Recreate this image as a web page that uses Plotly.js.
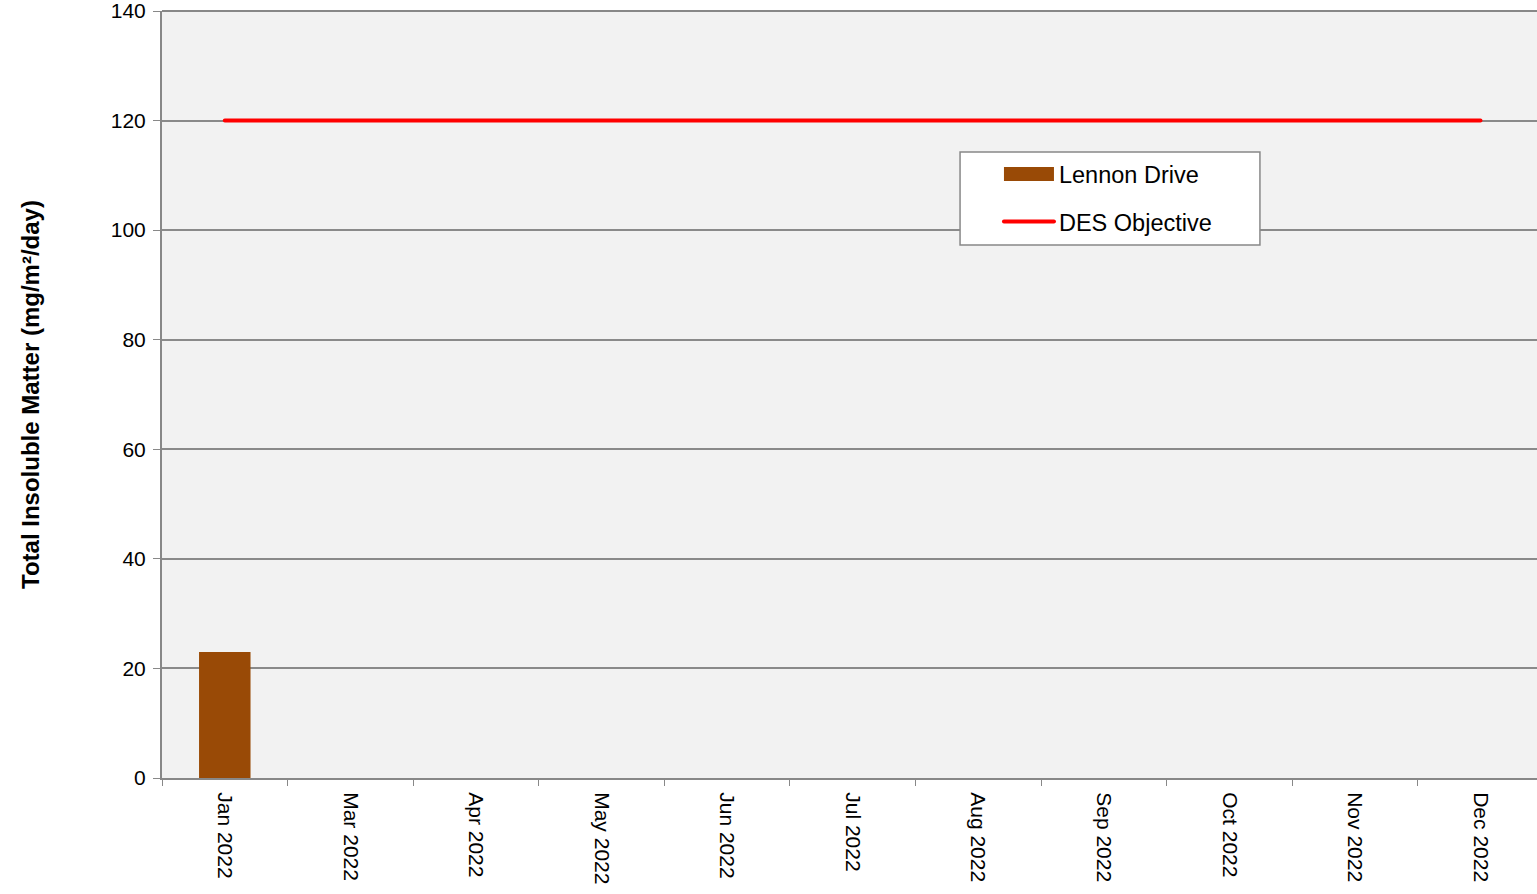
<!DOCTYPE html>
<html><head><meta charset="utf-8">
<script src="https://cdn.plot.ly/plotly-3.0.1.min.js"></script>
<style>html,body{margin:0;padding:0;background:#fff}#chart{width:1537px;height:894px}</style>
</head><body><div id="chart"></div>
<script>
const categories = ["Jan 2022","Mar 2022","Apr 2022","May 2022","Jun 2022","Jul 2022","Aug 2022","Sep 2022","Oct 2022","Nov 2022","Dec 2022"];
const lennonDrive = [23, null, null, null, null, null, null, null, null, null, null];
const desObjective = [120,120,120,120,120,120,120,120,120,120,120];
const yTicks = [0,20,40,60,80,100,120,140];
const BROWN = '#994a06';

const traces = [
  {type:'bar', name:'Lennon Drive', x:categories, y:lennonDrive, width:0.41,
   marker:{color:BROWN, line:{width:0}}, showlegend:false},
  // legend entry for the bar series (wide swatch like the reference)
  {type:'scatter', mode:'lines', name:'Lennon Drive', x:categories, y:categories.map(()=>null),
   line:{color:BROWN, width:10}, legendgroup:'a', showlegend:true, hoverinfo:'skip'},
  {type:'scatter', mode:'lines', name:'DES Objective', x:categories, y:desObjective,
   line:{color:'#ff0000', width:4}, legendgroup:'b'}
];
const layout = {
  width:1537, height:894,
  margin:{l:162, r:0, t:11, b:116},
  paper_bgcolor:'#ffffff', plot_bgcolor:'#f2f2f2',
  font:{family:'Liberation Sans, Arial, sans-serif', color:'#000', size:21},
  showlegend:true,
  legend:{x:0.6087, y:0.816, xanchor:'left', yanchor:'top', bgcolor:'rgba(0,0,0,0)',
    borderwidth:0, font:{size:23.5}, tracegroupgap:14, itemwidth:50, traceorder:'grouped'},
  xaxis:{type:'category', tickangle:90, tickson:'boundaries', ticks:'outside', ticklen:6,
    tickcolor:'#888888', showline:true, linecolor:'#888888', linewidth:2, showgrid:false,
    tickfont:{size:21}, ticklabelstandoff:8, range:[-0.5,10.45]},
  yaxis:{range:[0,140], tickvals:yTicks, ticks:'outside', ticklen:7, tickcolor:'#888888',
    showline:true, linecolor:'#888888', linewidth:2, gridcolor:'#8a8a8a', gridwidth:2,
    zeroline:false, tickfont:{size:21}, ticklabelstandoff:3, ticklabeloverflow:'allow',
    title:{text:'<b>Total Insoluble Matter (mg/m²/day)</b>', font:{size:24}, standoff:64}},
  shapes:[
    {type:'line', xref:'paper', yref:'paper', x0:0, x1:1, y0:1, y1:1, line:{color:'#888888', width:2}},
    {type:'rect', xref:'paper', yref:'paper', x0:0.5804, x1:0.7985, y0:0.6949, y1:0.8162,
     fillcolor:'#ffffff', line:{color:'#888888', width:1.5}, layer:'above'}
  ]
};
Plotly.newPlot('chart', traces, layout, {displayModeBar:false, staticPlot:true}).then(gd => {
  // widen the bar swatch and round the line caps, as in the reference
  const legendLines = gd.querySelectorAll('.legend .traces path.js-line');
  if (legendLines[0]) legendLines[0].style.strokeWidth = '14px';
  legendLines.forEach(p => p.style.strokeLinecap = 'round');
  if (legendLines[0]) legendLines[0].style.strokeLinecap = 'butt';
  gd.querySelectorAll('.scatterlayer path.js-line').forEach(p => p.style.strokeLinecap = 'round');
});
</script></body></html>
